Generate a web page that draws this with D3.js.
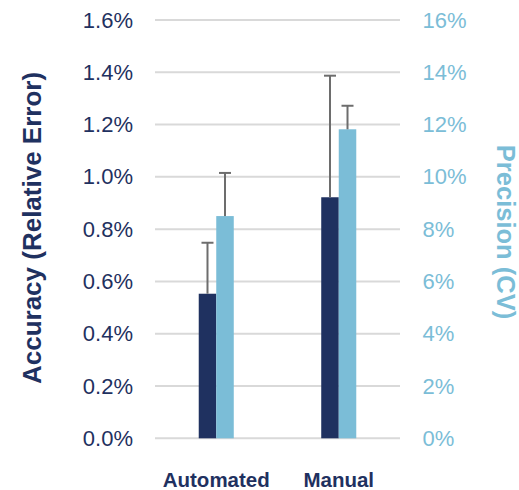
<!DOCTYPE html>
<html>
<head>
<meta charset="utf-8">
<script src="https://cdn.jsdelivr.net/npm/d3@7"></script>
<style>
  html, body { margin: 0; padding: 0; background: #fff; }
  svg { display: block; font-family: "Liberation Sans", Arial, sans-serif; }
</style>
</head>
<body>
<svg id="chart" width="519" height="490"></svg>
<script>
// ---- data ----
const categories = ["Automated", "Manual"];
const series = ["Accuracy", "Precision"];
const accuracy = [0.553, 0.922];        // % relative error (left axis)
const accuracyErr = [0.195, 0.465];
const precision = [8.50, 11.82];        // % CV (right axis)
const precisionErr = [1.65, 0.90];
const leftTicks = [0, 0.2, 0.4, 0.6, 0.8, 1.0, 1.2, 1.4, 1.6];
const rightTicks = [0, 2, 4, 6, 8, 10, 12, 14, 16];

// ---- layout ----
const svg = d3.select("#chart");
const plot = { left: 155, right: 400, top: 20, bottom: 438.3 };
const darkBlue = "#1f3160", lightBlue = "#7bbdd7";
const errColor = "#6d6d6d", gridColor = "#d9d9d9";

const x = d3.scaleBand().domain(categories).range([plot.left, plot.right])
  .paddingInner(0.714).paddingOuter(0.357);
const xs = d3.scaleBand().domain(series).range([0, x.bandwidth()]);
const yL = d3.scaleLinear().domain([0, 1.6]).range([plot.bottom, plot.top]);
const yR = d3.scaleLinear().domain([0, 16]).range([plot.bottom, plot.top]);

// gridlines
svg.append("g").selectAll("line").data(leftTicks).join("line")
  .attr("x1", plot.left).attr("x2", plot.right)
  .attr("y1", d => yL(d)).attr("y2", d => yL(d))
  .attr("stroke", gridColor).attr("stroke-width", 2);

// left axis
const axL = svg.append("g").attr("transform", `translate(${plot.left},0)`)
  .call(d3.axisLeft(yL).tickValues(leftTicks).tickSize(0).tickPadding(22)
    .tickFormat(d => d.toFixed(1) + "%"));
axL.select(".domain").remove();
axL.selectAll("text").attr("fill", darkBlue).attr("font-size", 22)
  .attr("font-family", "Liberation Sans, Arial, sans-serif");

// right axis
const axR = svg.append("g").attr("transform", `translate(${plot.right},0)`)
  .call(d3.axisRight(yR).tickValues(rightTicks).tickSize(0).tickPadding(22.5)
    .tickFormat(d => d + "%"));
axR.select(".domain").remove();
axR.selectAll("text").attr("fill", lightBlue).attr("font-size", 22)
  .attr("font-family", "Liberation Sans, Arial, sans-serif");

// bars
const rows = categories.map((c, i) => ([
  { c, s: "Accuracy", v: accuracy[i], e: accuracyErr[i], y: yL, color: darkBlue },
  { c, s: "Precision", v: precision[i], e: precisionErr[i], y: yR, color: lightBlue }
])).flat();

svg.append("g").selectAll("rect").data(rows).join("rect")
  .attr("x", d => x(d.c) + xs(d.s))
  .attr("width", xs.bandwidth())
  .attr("y", d => d.y(d.v))
  .attr("height", d => plot.bottom - d.y(d.v))
  .attr("fill", d => d.color);

// error bars (plus direction)
const eb = svg.append("g").attr("stroke", errColor).attr("stroke-width", 2);
rows.forEach(d => {
  const cx = x(d.c) + xs(d.s) + xs.bandwidth() / 2;
  eb.append("line").attr("x1", cx).attr("x2", cx)
    .attr("y1", d.y(d.v)).attr("y2", d.y(d.v + d.e));
  eb.append("line").attr("x1", cx - 6).attr("x2", cx + 6)
    .attr("y1", d.y(d.v + d.e)).attr("y2", d.y(d.v + d.e));
});

// category labels
svg.append("g").selectAll("text").data(categories).join("text")
  .attr("x", d => x(d) + x.bandwidth() / 2)
  .attr("y", 486.5)
  .attr("text-anchor", "middle")
  .attr("font-weight", "bold").attr("font-size", 20.5)
  .attr("fill", darkBlue)
  .text(d => d);

// axis titles
svg.append("text")
  .attr("transform", "translate(41,228) rotate(-90)")
  .attr("text-anchor", "middle")
  .attr("font-weight", "bold").attr("font-size", 26)
  .attr("fill", darkBlue)
  .text("Accuracy (Relative Error)");

svg.append("text")
  .attr("transform", "translate(496.5,232) rotate(90)")
  .attr("text-anchor", "middle")
  .attr("font-weight", "bold").attr("font-size", 25.5)
  .attr("fill", lightBlue)
  .text("Precision (CV)");
</script>
</body>
</html>
